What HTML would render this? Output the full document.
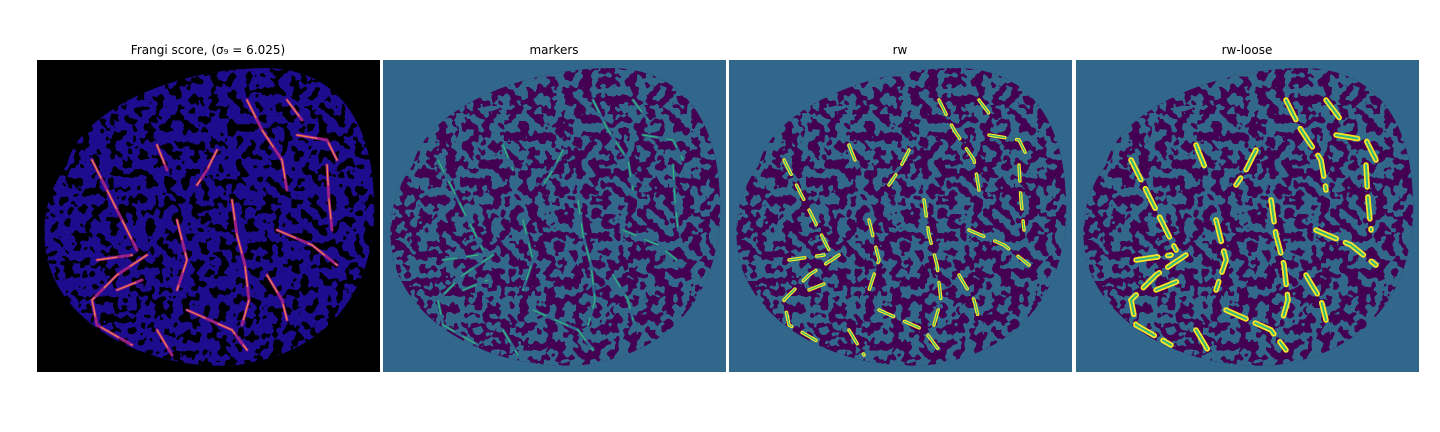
<!DOCTYPE html>
<html><head><meta charset="utf-8"><style>
html,body{margin:0;padding:0;background:#fff;width:1440px;height:432px;overflow:hidden}
svg{display:block}
text{font-family:"DejaVu Sans","Liberation Sans",sans-serif;font-size:12px;fill:#000}
</style></head><body>
<svg width="1440" height="432">
<defs>
<filter id="tex" x="0" y="0" width="100%" height="100%">
<feTurbulence type="fractalNoise" baseFrequency="0.11" numOctaves="2" seed="3" result="n"/>
<feColorMatrix in="n" type="matrix" values="0 0 0 0 0  0 0 0 0 0  0 0 0 0 0  1.6 0 0 0 -0.3" result="a"/>
<feComponentTransfer in="a" result="t"><feFuncA type="discrete" tableValues="0 1"/></feComponentTransfer>
<feFlood flood-color="#30678a"/>
<feComposite in2="t" operator="in"/>
</filter>
<filter id="tex1" x="0" y="0" width="100%" height="100%">
<feTurbulence type="fractalNoise" baseFrequency="0.11" numOctaves="2" seed="3" result="n"/>
<feColorMatrix in="n" type="matrix" values="0 0 0 0 0  0 0 0 0 0  0 0 0 0 0  1.6 0 0 0 -0.38" result="a"/>
<feComponentTransfer in="a" result="t"><feFuncA type="discrete" tableValues="0 1"/></feComponentTransfer>
<feFlood flood-color="#000000"/>
<feComposite in2="t" operator="in"/>
</filter>
<path id="blob" d="M 30,105 C 40,55 130,8 230,8 C 300,10 335,60 337,140 C 340,220 300,292 200,305 C 110,312 15,262 8,185 C 5,150 15,125 30,105 Z"/>
<clipPath id="bc"><use href="#blob"/></clipPath>
<g id="ves" fill="none" stroke-linecap="round">
<path d="M195,140 L200,175 L208,205 L212,240 L205,265"/>
<path d="M110,195 L80,215 L55,240 L60,265 L95,285"/>
<path d="M55,100 L70,130 L85,160 L100,190"/>
<path d="M150,250 L195,270 L210,290"/>
<path d="M290,105 L292,140 L295,170"/>
<path d="M210,40 L225,70 L245,100 L250,130"/>
<path d="M240,170 L275,185 L300,205"/>
<path d="M120,85 L130,110"/>
<path d="M180,90 L170,110 L160,125"/>
<path d="M140,160 L150,200 L140,230"/>
<path d="M60,200 L95,195"/>
<path d="M260,75 L290,80 L300,100"/>
<path d="M80,230 L105,220"/>
<path d="M230,215 L245,240 L250,260"/>
<path d="M120,270 L135,295"/>
<path d="M250,40 L265,60"/>
</g>
</defs>

<text x="208" y="54" text-anchor="middle">Frangi score, (σ₉ = 6.025)</text>
<text x="554" y="54" text-anchor="middle">markers</text>
<text x="900" y="54" text-anchor="middle">rw</text>
<text x="1247" y="54" text-anchor="middle">rw-loose</text>

<g transform="translate(37,60)">
<rect width="343" height="312" fill="#000"/>
<use href="#blob" fill="#1e0c8e"/>
<rect width="343" height="312" filter="url(#tex1)" clip-path="url(#bc)"/>
<use href="#ves" stroke="#9c1f86" stroke-width="3"/>
<use href="#ves" stroke="#f0804a" stroke-width="1.2" stroke-dasharray="20 14"/>
</g>

<g transform="translate(383,60)">
<rect width="343" height="312" fill="#30678a"/>
<use href="#blob" fill="#440154"/>
<rect width="343" height="312" filter="url(#tex)" clip-path="url(#bc)"/>
<use href="#ves" stroke="#30678a" stroke-width="3"/>
<use href="#ves" stroke="#35b779" stroke-width="1.2" stroke-dasharray="14 10"/>
</g>

<g transform="translate(729,60)">
<rect width="343" height="312" fill="#30678a"/>
<use href="#blob" fill="#440154"/>
<rect width="343" height="312" filter="url(#tex)" clip-path="url(#bc)"/>
<use href="#ves" stroke="#fde725" stroke-width="3.5" stroke-dasharray="16 12"/>
<use href="#ves" stroke="#35b779" stroke-width="1.2" stroke-dasharray="16 12"/>
</g>

<g transform="translate(1076,60)">
<rect width="343" height="312" fill="#30678a"/>
<use href="#blob" fill="#440154"/>
<rect width="343" height="312" filter="url(#tex)" clip-path="url(#bc)"/>
<use href="#ves" stroke="#fde725" stroke-width="5.5" stroke-dasharray="22 10"/>
<use href="#ves" stroke="#35b779" stroke-width="2" stroke-dasharray="22 10"/>
</g>
</svg>
</body></html>
